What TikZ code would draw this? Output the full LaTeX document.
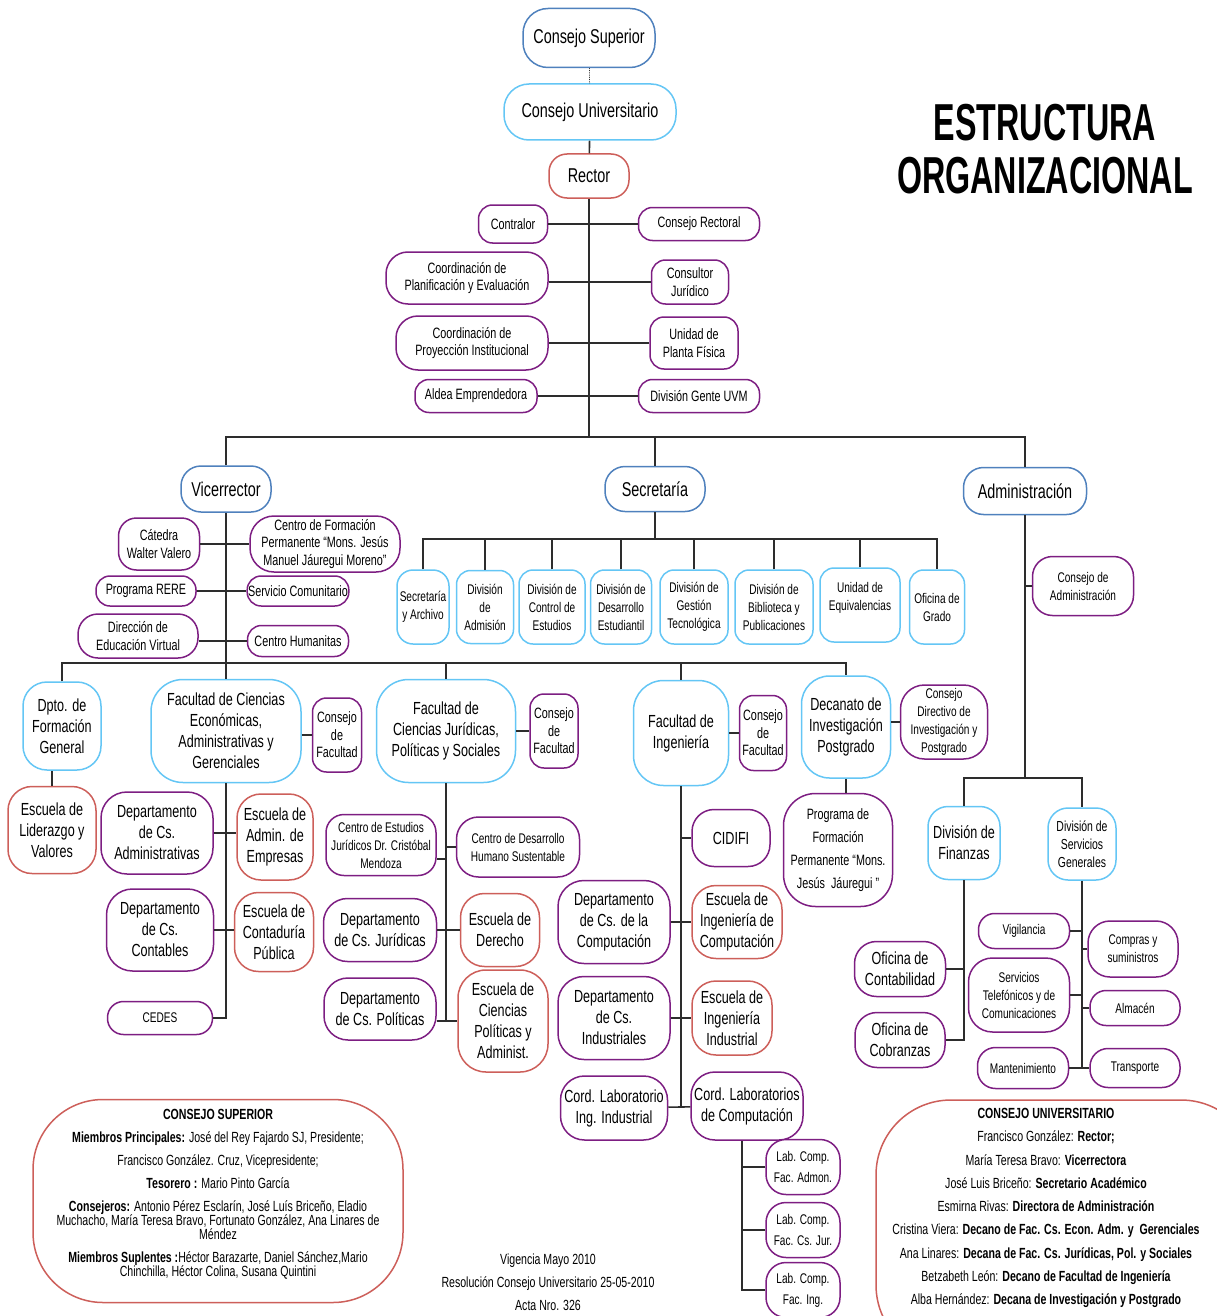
\documentclass[tikz,border=0pt]{standalone}
\usepackage{fontspec}
\setmainfont[FakeStretch=0.72]{Liberation Sans}
\newfontfamily\titfont[FakeStretch=0.62]{Liberation Sans}
\usepackage{tikz}
\definecolor{azul}{RGB}{79,129,189}
\definecolor{celeste}{RGB}{100,198,245}
\definecolor{rojo}{RGB}{205,95,90}
\definecolor{morado}{RGB}{125,30,130}
\definecolor{linea}{RGB}{45,45,45}
\tikzstyle{caja} = [draw, align=center, inner sep=1pt, line width=1.5pt,
    fill=white, rounded corners=14pt]
\tikzstyle{az} = [caja, draw=azul]
\tikzstyle{cel} = [caja, draw=celeste]
\tikzstyle{roj} = [caja, draw=rojo]
\tikzstyle{mor} = [caja, draw=morado]
\tikzstyle{con} = [draw=linea, line width=1.6pt]
\tikzset{wh/.style 2 args={minimum width=#1pt, minimum height=#2pt}}
\tikzset{fXL/.style={font=\fontsize{20}{24}\selectfont},
    fL/.style={font=\fontsize{17.5}{21}\selectfont},
    fM/.style={font=\fontsize{15}{17.5}\selectfont},
    fS/.style={font=\fontsize{14}{18}\selectfont}}

\begin{document}
\begin{tikzpicture}[x=1pt,y=-1pt]
\useasboundingbox (0,0) rectangle (1217,1316);
    %top
    \node[az, fXL, wh={132}{59}, rounded corners=25pt] (csup) at (589,38) {Consejo Superior};
    \node[cel, fXL, wh={172}{56}, rounded corners=25pt] (cuni) at (590,112) {Consejo Universitario};
    \node[roj, fXL, wh={80}{44}, rounded corners=18pt] (rector) at (589,176) {Rector};
    \node[font=\titfont\bfseries\fontsize{52}{53}\selectfont, align=center] (titulo) at (1045,149) {ESTRUCTURA\\ORGANIZACIONAL};
    %rector staff
    \node[mor, fM, wh={69}{38}] (contral) at (513,224) {Contralor};
    \node[mor, fM, wh={121}{33}] (crect) at (699,224) {Consejo Rectoral};
    \node[mor, fM, wh={162}{52}, rounded corners=22pt] (cplan) at (467,278) {Coordinación de\\Planificación y Evaluación};
    \node[mor, fM, wh={77}{44}] (cjur) at (690,282) {Consultor\\Jurídico};
    \node[mor, fM, wh={152}{54}, rounded corners=22pt] (cproy) at (472,343) {Coordinación de\\Proyección Institucional};
    \node[mor, fM, wh={88}{52}] (uplanta) at (694,343) {Unidad de\\Planta Física};
    \node[mor, fM, wh={122}{33}] (aldea) at (476,396) {Aldea Emprendedora};
    \node[mor, fM, wh={121}{33}] (dgente) at (699,396) {División Gente UVM};
    %second level
    \node[az, fXL, wh={90}{46}, rounded corners=20pt] (vice) at (226,489) {Vicerrector};
    \node[az, fXL, wh={100}{45}, rounded corners=20pt] (secre) at (655,489) {Secretaría};
    \node[az, fXL, wh={123}{47}, rounded corners=20pt] (admin) at (1025,491) {Administración};
    \coordinate (rbar) at (589,437);
    \coordinate (sbar) at (655,539);
    \coordinate (vbar) at (226,663);
    \coordinate (abar) at (1025,778);
    %vicerrector staff
    \node[mor, fM, wh={81}{52}, rounded corners=18pt] (catedra) at (159,544) {Cátedra\\Walter Valero};
    \node[mor, fM, wh={150}{56}, rounded corners=24pt] (cforma) at (325,544) {Centro de Formación\\Permanente “Mons. Jesús\\Manuel Jáuregui Moreno”};
    \node[mor, fM, wh={100}{30}] (rere) at (146,591) {Programa RERE};
    \node[mor, fM, wh={101}{30}] (scomu) at (298,591) {Servicio Comunitario};
    \node[mor, fM, wh={120}{44}, rounded corners=20pt] (devirt) at (138,636) {Dirección de\\Educación Virtual};
    \node[mor, fM, wh={101}{31}] (humanitas) at (298,641) {Centro Humanitas};
    %secretaria
    \node[cel, fS, wh={52}{74}, rounded corners=16pt] (sarch) at (423,607) {Secretaría\\y Archivo};
    \node[cel, fS, wh={57}{73}] (dadm) at (485,607) {División\\de\\Admisión};
    \node[cel, fS, wh={66}{74}] (dcont) at (552,607) {División de\\Control de\\Estudios};
    \node[cel, fS, wh={61}{74}] (ddes) at (621,607) {División de\\Desarrollo\\Estudiantil};
    \node[cel, fS, wh={68}{74}] (dgest) at (694,607) {División de\\Gestión\\Tecnológica};
    \node[cel, fS, wh={78}{74}] (dbib) at (774,607) {División de\\Biblioteca y\\Publicaciones};
    \node[cel, fS, wh={80}{74}] (uequiv) at (860,605) {Unidad de\\Equivalencias\\ \mbox{}};
    \node[cel, fS, wh={55}{74}] (ograd) at (937,607) {Oficina de\\Grado};
    %administracion
    \node[mor, fS, wh={101}{59}, rounded corners=20pt] (cadmin) at (1083,586) {Consejo de\\Administración};
    \node[cel, fL, wh={72}{73}, rounded corners=20pt] (finan) at (964,843) {División de\\Finanzas};
    \node[cel, font=\fontsize{14.5}{18}\selectfont, wh={68}{72}, rounded corners=20pt] (sgen) at (1082,844) {División de\\Servicios\\Generales};
    \node[mor, fL, wh={91}{55}, rounded corners=22pt] (conta) at (900,969) {Oficina de\\Contabilidad};
    \node[mor, fL, wh={90}{55}, rounded corners=22pt] (cobra) at (900,1040) {Oficina de\\Cobranzas};
    \node[mor, fS, wh={91}{35}, rounded corners=16pt] (vigil) at (1024,931) {Vigilancia};
    \node[mor, fS, wh={101}{74}, rounded corners=24pt] (stele) at (1019,995) {Servicios\\Telefónicos y de\\Comunicaciones};
    \node[mor, fS, wh={91}{41}, rounded corners=18pt] (mante) at (1023,1068) {Mantenimiento};
    \node[mor, fS, wh={90}{56}, rounded corners=22pt] (compras) at (1133,949) {Compras y\\suministros};
    \node[mor, fS, wh={90}{35}, rounded corners=16pt] (almacen) at (1135,1008) {Almacén};
    \node[mor, fS, wh={90}{39}, rounded corners=18pt] (transp) at (1135,1068) {Transporte};
    %faculties
    \node[cel, fL, wh={78}{88}, rounded corners=24pt] (dfg) at (62,726) {Dpto. de\\Formación\\General};
    \node[roj, fL, wh={88}{87}, rounded corners=24pt] (elid) at (52,830) {Escuela de\\Liderazgo y\\Valores};
    \node[cel, fL, wh={150}{103}, rounded corners=32pt] (fceag) at (226,731) {Facultad de Ciencias\\Económicas,\\Administrativas y\\Gerenciales};
    \node[mor, fM, wh={49}{74}, rounded corners=14pt] (cf1) at (337,735) {Consejo\\de\\Facultad};
    \node[cel, fL, wh={139}{103}, rounded corners=32pt] (fcjps) at (446,731) {Facultad de\\Ciencias Jurídicas,\\Políticas y Sociales};
    \node[mor, fM, wh={48}{74}, rounded corners=14pt] (cf2) at (554,731) {Consejo\\de\\Facultad};
    \node[cel, fL, wh={95}{105}, rounded corners=30pt] (fing) at (681,733) {Facultad de\\Ingeniería};
    \node[mor, fM, wh={47}{75}, rounded corners=14pt] (cf3) at (763,733) {Consejo\\de\\Facultad};
    \node[cel, fL, wh={89}{102}, rounded corners=28pt] (decan) at (846,727) {Decanato de\\Investigación\\Postgrado};
    \node[mor, fS, wh={87}{74}, rounded corners=24pt] (cdip) at (944,722) {Consejo\\Directivo de\\Investigación y\\Postgrado};
    \node[mor, wh={109}{113}, rounded corners=32pt, font=\fontsize{15}{23}\selectfont] (pforma) at (838,850) {Programa de\\Formación\\Permanente “Mons.\\Jesús\ \ Jáuregui ”};
    %fceag
    \node[mor, fL, wh={112}{82}, rounded corners=26pt] (dcadm) at (157,833) {Departamento\\de Cs.\\Administrativas};
    \node[roj, fL, wh={76}{86}, rounded corners=24pt] (eadm) at (275,837) {Escuela de\\Admin. de\\Empresas};
    \node[mor, fL, wh={107}{82}, rounded corners=26pt] (dccont) at (160,930) {Departamento\\de Cs.\\Contables};
    \node[roj, fL, wh={79}{79}, rounded corners=24pt] (econt) at (274,932) {Escuela de\\Contaduría\\Pública};
    \node[mor, fS, wh={105}{33}, rounded corners=16pt] (cedes) at (160,1018) {CEDES};
    %fcjps
    \node[mor, fS, wh={110}{61}, rounded corners=18pt] (cej) at (381,845) {Centro de Estudios\\Jurídicos Dr. Cristóbal\\Mendoza};
    \node[mor, fS, wh={123}{60}, rounded corners=22pt] (cdhs) at (518,847) {Centro de Desarrollo\\Humano Sustentable};
    \node[mor, fL, wh={113}{63}, rounded corners=24pt] (dcjur) at (380,930) {Departamento\\de Cs. Jurídicas};
    \node[roj, fL, wh={79}{73}, rounded corners=24pt] (eder) at (500,930) {Escuela de\\Derecho};
    \node[mor, fL, wh={112}{62}, rounded corners=24pt] (dcpol) at (380,1009) {Departamento\\de Cs. Políticas};
    \node[roj, fL, wh={90}{102}, rounded corners=28pt] (ecpa) at (503,1021) {Escuela de\\Ciencias\\Políticas y\\Administ.};
    %ingenieria
    \node[mor, fL, wh={78}{57}, rounded corners=22pt] (cidifi) at (731,838) {CIDIFI};
    \node[mor, fL, wh={112}{83}, rounded corners=26pt] (dccomp) at (614,922) {Departamento\\de Cs. de la\\Computación};
    \node[roj, fL, wh={90}{73}, rounded corners=24pt] (eicomp) at (737,922) {Escuela de\\Ingeniería de\\Computación};
    \node[mor, fL, wh={112}{83}, rounded corners=26pt] (dcind) at (614,1018) {Departamento\\de Cs.\\Industriales};
    \node[roj, fL, wh={80}{74}, rounded corners=24pt] (eiind) at (732,1018) {Escuela de\\Ingeniería\\Industrial};
    \node[mor, fL, wh={107}{64}, rounded corners=24pt] (clind) at (614,1108) {Cord. Laboratorio\\Ing. Industrial};
    \node[mor, fL, wh={112}{68}, rounded corners=24pt] (clcomp) at (747,1106) {Cord. Laboratorios\\de Computación};
    \node[mor, wh={74}{55}, rounded corners=20pt, font=\fontsize{14}{21}\selectfont] (lab1) at (803,1167) {Lab. Comp.\\Fac. Admon.};
    \node[mor, wh={74}{55}, rounded corners=20pt, font=\fontsize{14}{21}\selectfont] (lab2) at (803,1230) {Lab. Comp.\\Fac. Cs. Jur.};
    \node[mor, wh={74}{55}, rounded corners=20pt, font=\fontsize{14}{21}\selectfont] (lab3) at (803,1290) {Lab. Comp.\\Fac. Ing.};
    %edges
    \draw[linea, densely dotted, line width=0.8pt] (csup) -- (cuni);
    \draw[con] (cuni) -- (rector);
    \draw[con] (rector) -- (rbar);
    \draw[con] (contral) -- (crect);
    \draw[con] (cplan.east |- cjur.west) -- (cjur.west);
    \draw[con] (cproy) -- (uplanta);
    \draw[con] (aldea) -- (dgente);
    \draw[con] (vice.north) -- (vice.north |- rbar) -- (admin.north |- rbar) -- (admin.north);
    \draw[con] (secre.north) -- (secre.north |- rbar);
    \draw[con] (vice) -- (fceag);
    \draw[con] (catedra) -- (cforma);
    \draw[con] (rere) -- (scomu);
    \draw[con] (devirt.east |- humanitas.west) -- (humanitas.west);
    \draw[con] (secre) -- (sbar);
    \draw[con] (sarch.north) -- (sarch.north |- sbar) -- (ograd.north |- sbar) -- (ograd.north);
    \foreach \n in {dadm,dcont,ddes,dgest,dbib,uequiv}
        \draw[con] (\n.north) -- (\n.north |- sbar);
    \draw[con] (admin) -- (abar);
    \draw[con] (cadmin.west) -- (cadmin.west -| admin.south);
    \draw[con] (finan.north) -- (finan.north |- abar) -- (sgen.north |- abar) -- (sgen.north);
    \draw[con] (conta.east) -- (conta.east -| finan.south);
    \draw[con] (finan.south) |- (cobra.east);
    \draw[con] (sgen.south) -- (sgen.south |- transp.west);
    \draw[con] (mante) -- (transp);
    \foreach \n in {vigil,stele}
        \draw[con] (\n.east) -- (\n.east -| sgen.south);
    \foreach \n in {compras,almacen}
        \draw[con] (\n.west) -- (\n.west -| sgen.south);
    \draw[con] (dfg.north) -- (dfg.north |- vbar) -- (decan.north |- vbar) -- (decan.north);
    \foreach \n in {fcjps,fing}
        \draw[con] (\n.north) -- (\n.north |- vbar);
    \draw[con] (elid.north) -- (elid.north |- dfg.south);
    \draw[con] (cf1.west -| fceag.east) -- (cf1.west);
    \draw[con] (fcjps) -- (cf2);
    \draw[con] (fing) -- (cf3);
    \draw[con] (decan.east |- cdip.west) -- (cdip.west);
    \draw[con] (decan.south) -- (decan.south |- pforma.north);
    \draw[con] (fceag) |- (cedes.east);
    \draw[con] (dcadm.east) -- (dcadm.east -| eadm.west);
    \draw[con] (dccont.east) -- (dccont.east -| econt.west);
    \draw[con] (fcjps) -- (fcjps |- ecpa.west) -- (ecpa.west);
    \draw[con] (dcpol.east |- ecpa.west) -- (fcjps |- ecpa.west);
    \draw[con] ([yshift=-14pt]cej.east) -- ([yshift=-14pt]cej.east -| fcjps.south);
    \draw[con] (cdhs.west) -- (cdhs.west -| fcjps.south);
    \draw[con] (dcjur) -- (eder);
    \draw[con] (fing) -- (fing |- clind.east);
    \draw[con] (cidifi.west) -- (cidifi.west -| fing.south);
    \draw[con] (dccomp) -- (eicomp);
    \draw[con] (dcind) -- (eiind);
    \draw[con] (clind) -- (clcomp);
    \foreach \n in {lab1,lab2,lab3}
        \draw[con] (\n.west) -| ([xshift=-5pt]clcomp.south);
    %notes
    \node[roj, wh={370}{203}, rounded corners=70pt] (csbox) at (218,1201) {};
    \node[font=\fontsize{14.7}{14}\selectfont, align=center] (cstext) at (218,1194) {\textbf{CONSEJO SUPERIOR}\\[9pt]
        \textbf{Miembros Principales:} José del Rey Fajardo SJ, Presidente;\\[9pt]
        Francisco González. Cruz, Vicepresidente;\\[9pt]
        \textbf{Tesorero :} Mario Pinto García\\[9pt]
        \textbf{Consejeros:} Antonio Pérez Esclarín, José Luís Briceño, Eladio\\
        Muchacho, María Teresa Bravo, Fortunato González, Ana Linares de\\
        Méndez\\[9pt]
        \textbf{Miembros Suplentes :}Héctor Barazarte, Daniel Sánchez,Mario\\
        Chinchilla, Héctor Colina, Susana Quintini};
    \node[font=\fontsize{14.7}{23}\selectfont, align=center] (vigencia) at (548,1282) {Vigencia Mayo 2010\\Resolución Consejo Universitario 25-05-2010\\Acta Nro. 326};
    \node[roj, wh={380}{260}, rounded corners=75pt] (cubox) at (1066,1230) {};
    \node[font=\fontsize{14.7}{23.25}\selectfont, align=center] (cutext) at (1046,1208) {\textbf{CONSEJO UNIVERSITARIO}\\
        Francisco González: \textbf{Rector;}\\
        María Teresa Bravo: \textbf{Vicerrectora}\\
        José Luis Briceño: \textbf{Secretario Académico}\\
        Esmirna Rivas: \textbf{Directora de Administración}\\
        Cristina Viera: \textbf{Decano de Fac. Cs. Econ. Adm. y\ \ Gerenciales}\\
        Ana Linares: \textbf{Decana de Fac. Cs. Jurídicas, Pol. y Sociales}\\
        Betzabeth León: \textbf{Decano de Facultad de Ingeniería}\\
        Alba Hernández: \textbf{Decana de Investigación y Postgrado}};
\end{tikzpicture}
\end{document}
